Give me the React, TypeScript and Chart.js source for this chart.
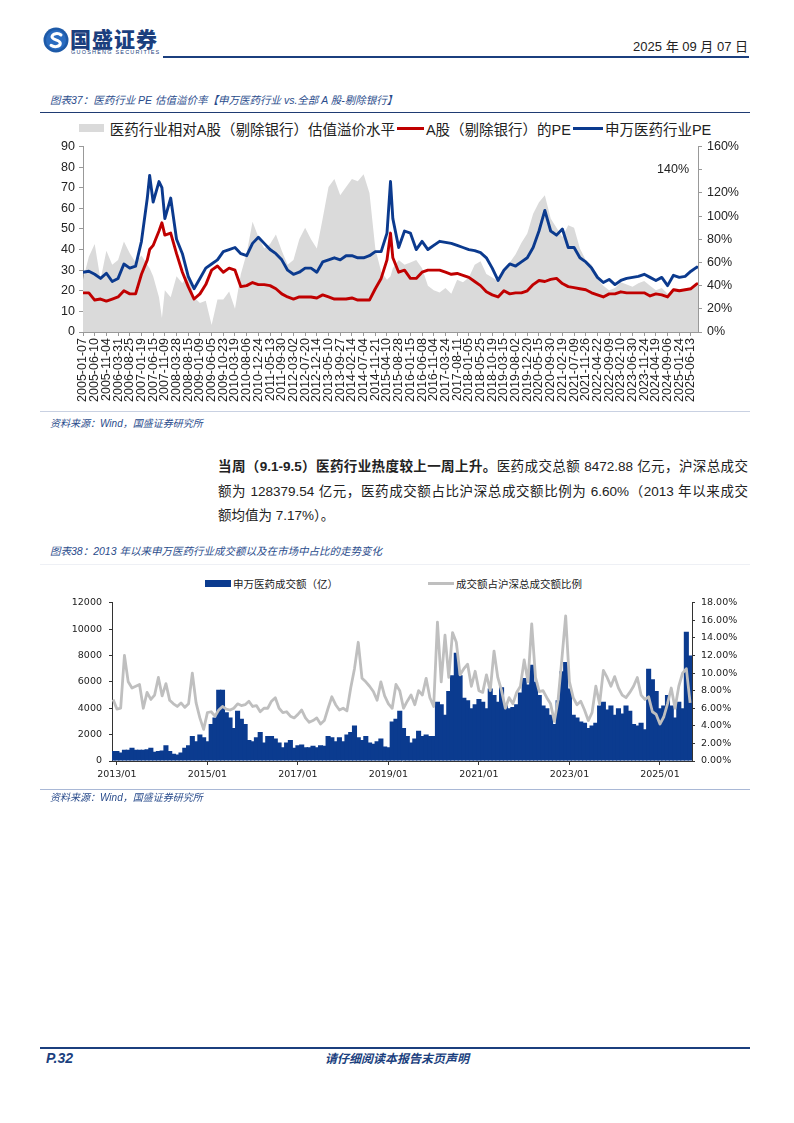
import React, { useEffect, useRef } from 'react';
import { Chart, registerables } from 'chart.js';

Chart.register(...registerables);

// ---------------- Chart 37: PE & premium ----------------
const peXLabels = [
  '2005-01-07','2005-06-10','2005-11-04','2006-03-31','2006-08-25','2007-01-19','2007-06-15','2007-11-09',
  '2008-03-28','2008-08-15','2009-01-09','2009-06-05','2009-10-23','2010-03-19','2010-08-06','2010-12-24',
  '2011-05-13','2011-09-30','2012-03-02','2012-07-20','2012-12-14','2013-05-10','2013-09-27','2014-02-14',
  '2014-07-04','2014-11-21','2015-04-10','2015-08-28','2016-01-15','2016-06-08','2016-11-04','2017-03-24',
  '2017-08-11','2018-01-05','2018-05-25','2018-10-19','2019-03-15','2019-08-02','2019-12-20','2020-05-15',
  '2020-09-30','2021-02-19','2021-07-09','2021-11-26','2022-04-22','2022-09-09','2023-02-10','2023-06-30',
  '2023-11-24','2024-04-19','2024-09-06','2025-01-24','2025-06-13',
];

// trading-week index of each sample (tick labels every 20 weeks)
const peWeeks = [
  0, 10, 20, 30, 40, 50, 60, 70, 80, 90,
  100, 110, 114, 120, 130, 135, 140, 150, 160, 170,
  180, 190, 200, 210, 220, 230, 240, 250, 260, 270,
  280, 290, 300, 310, 320, 330, 340, 350, 360, 370,
  380, 390, 400, 410, 420, 430, 440, 450, 460, 470,
  480, 490, 500, 510, 520, 526, 530, 540, 550, 560,
  570, 580, 590, 600, 610, 620, 630, 640, 650, 660,
  670, 680, 690, 700, 710, 720, 730, 740, 750, 760,
  770, 780, 790, 800, 810, 820, 830, 840, 850, 860,
  870, 880, 890, 900, 910, 920, 930, 940, 950, 960,
  970, 980, 990, 1000, 1010, 1020, 1030, 1040, 1050, 1052,
];

const swPharmaPE = [
  29, 29.5, 28, 26, 28.5, 24.5, 26, 33, 31, 32,
  44, 65, 76, 63, 73, 70, 55, 65, 45, 38,
  27, 21, 26, 31, 33, 35, 39, 40, 41, 38,
  37, 43, 46, 43, 40, 38, 35, 30, 28, 29,
  31, 31, 29, 34, 35, 36, 35, 37, 37, 36,
  36, 37, 39, 39, 48, 73, 55, 41, 49, 48,
  40, 44, 40, 42, 44, 43.5, 43, 42, 41, 40,
  39.5, 38.5, 36, 31, 25, 30, 33, 32, 34, 36,
  41, 49, 59, 49, 47, 50, 41, 41, 36, 34,
  31, 26.5, 24, 25.5, 23, 25, 26, 26.5, 27, 28,
  26.5, 25, 26.5, 22.5, 27.5, 26.5, 27, 29.5, 31.5, 31,
];

const aShareExBankPE = [
  19, 19, 15.5, 16, 15, 16, 17, 20, 18.5, 18.5,
  28, 35, 40, 42, 49, 53, 47, 48, 38, 29,
  22, 16, 18.5, 23, 30, 32, 29, 31, 30, 22,
  22.5, 24, 23, 23, 22.5, 21, 18.5, 17, 16, 17,
  17, 17, 16.5, 18, 17, 16, 16, 16, 16.5, 15.5,
  15.5, 15.5, 21, 26, 35, 48, 36, 29, 30, 26,
  26, 29, 30, 30, 30, 29, 28, 28.4, 27.5, 26.5,
  24.5, 22.5, 19.5, 18, 17, 20, 18.5, 19, 19, 20,
  23, 25, 24.5, 25.5, 26, 23.5, 22, 21.5, 21, 20.5,
  19, 18, 17, 18.5, 18.5, 19.5, 19, 19, 19, 19,
  17.5, 18.5, 18, 17, 20.5, 20, 20.5, 21, 23.3, 23.5,
];

const premiumPct = [
  45, 65, 76, 45, 70, 58, 62, 78, 68, 60,
  66, 58, 55, 48, 30, 12, 36, 30, 48, 42,
  50, 30, 25, 27, 6, 28, 28, 35, 20, 50,
  68, 95, 82, 72, 76, 84, 70, 58, 62, 80,
  90, 80, 72, 98, 125, 132, 118, 125, 132, 130,
  136, 120, 72, 52, 45, 48, 55, 62, 58, 60,
  62, 55, 40, 36, 34, 38, 33, 45, 43, 47,
  58, 61, 50, 47, 44, 52, 60, 67, 77, 85,
  102, 112, 118, 98, 90, 82, 92, 90, 72, 62,
  58, 46, 40, 36, 38, 43, 41, 39, 42, 44,
  40, 36, 38, 33, 38, 37, 36, 39, 40, 40,
];

// ---------------- Chart 38: turnover ----------------
const turnoverTickLabels = ['2013/01', '2015/01', '2017/01', '2019/01', '2021/01', '2023/01', '2025/01'];

// monthly samples starting 2012/12 (month index -1)
const turnoverYi = [
  750, 750, 650, 850, 850, 1000, 850, 850, 850, 900,
  1000, 700, 750, 800, 1200, 750, 550, 500, 650, 1000,
  1200, 1900, 1500, 2000, 1800, 1500, 2800, 3300, 5400, 5400,
  3700, 3300, 2500, 3800, 3200, 2800, 1600, 1500, 1800, 2200,
  1400, 1900, 1900, 1700, 1400, 1050, 1400, 1600, 1000, 1200,
  1250, 1050, 1050, 1150, 1050, 1200, 1150, 1900, 1800, 1500,
  1800, 1500, 2000, 2200, 2700, 1800, 1600, 1900, 1400, 1300,
  1500, 1700, 1100, 1050, 3000, 3200, 3800, 2500, 1900, 1400,
  1700, 2300, 1900, 2000, 1900, 1900, 4500, 4300, 3500, 5300,
  6500, 8200, 6500, 4800, 4600, 4000, 4300, 4700, 4500, 4000,
  5500, 5000, 4500, 5600, 4400, 4000, 4100, 4300, 5200, 6300,
  5800, 7300, 6000, 5000, 4200, 4000, 3500, 2800, 4600, 6800,
  7500, 5500, 3500, 3300, 3000, 2900, 2500, 2700, 2900, 4200,
  4500, 3900, 4200, 3500, 4000, 3600, 4200, 3800, 2800, 2700,
  2900, 2400, 7000, 6200, 5300, 4000, 4200, 5000, 4200, 3300,
  4500, 4000, 9800, 8000,
];

const turnoverRatioPct = [
  7.0, 5.9, 6.0, 12.0, 9.0, 8.3, 8.5, 8.7, 6.0, 7.8,
  7.0, 7.5, 9.5, 7.4, 8.8, 6.9, 6.5, 6.2, 6.6, 6.1,
  6.5, 10.0, 6.6, 4.9, 3.6, 5.5, 5.6, 5.1, 5.8, 6.2,
  5.9, 5.8, 6.0, 6.5, 6.3, 6.4, 6.8, 6.2, 6.3, 5.6,
  6.0, 6.0, 6.8, 7.2, 6.0, 5.5, 5.6, 5.1, 4.9, 5.3,
  5.8, 4.9, 4.4, 4.6, 4.9, 4.2, 4.6, 6.0, 7.3, 6.4,
  5.8, 6.0, 5.7, 8.3, 10.5, 13.5, 9.4, 9.0, 8.5, 7.9,
  6.9, 9.0, 7.4, 6.5, 6.0, 8.7, 8.0, 6.0, 6.8, 7.5,
  6.4, 8.0, 7.5, 9.4, 7.2, 6.2, 15.8, 9.0, 14.3, 9.5,
  14.6, 13.5, 9.8, 10.5, 11.0, 8.5, 10.2, 8.0, 7.8, 9.8,
  8.0, 12.5, 9.5, 8.0, 6.0, 7.2, 6.5, 7.8, 8.5, 11.5,
  9.0, 15.6, 9.5, 7.9, 8.0, 7.2, 6.5, 4.5, 7.0, 11.6,
  16.5, 9.0, 7.2, 6.4, 6.8, 5.8, 4.6, 5.5, 8.5, 6.5,
  10.3, 9.5, 8.5, 9.6, 8.3, 7.5, 7.2, 7.8, 8.5, 9.5,
  7.5, 7.0, 7.3, 5.6, 5.3, 4.2, 5.0, 6.5, 8.3, 6.0,
  8.5, 10.0, 10.5, 6.6,
];
const turnoverMonths = turnoverYi.map((_, i) => i - 1);

const NAVY = '#1b3f7e';
const TITLE_BLUE = '#2a4c8c';
const CJK = '"Noto Sans CJK SC", sans-serif';
const ARIAL_CJK = '"Liberation Sans", "Noto Sans CJK SC", sans-serif';

const label140Plugin = {
  id: 'label140',
  afterDraw(chart: any) {
    const s = chart.scales.y1;
    const ctx = chart.ctx;
    ctx.save();
    ctx.font = '12.5px "Liberation Sans", Arial, sans-serif';
    ctx.fillStyle = '#222';
    ctx.textAlign = 'right';
    ctx.textBaseline = 'middle';
    ctx.fillText('140%', chart.chartArea.right - 9, s.getPixelForValue(140));
    ctx.restore();
  },
};

function PEChart() {
  const ref = useRef<HTMLCanvasElement>(null);
  useEffect(() => {
    const tickFont = { family: '"Liberation Sans", Arial, sans-serif', size: 12.5 };
    const chart = new Chart(ref.current as HTMLCanvasElement, {
      type: 'line',
      data: {
        datasets: [
          {
            label: '申万医药行业PE',
            data: peWeeks.map((w, i) => ({ x: w, y: swPharmaPE[i] })),
            borderColor: '#0b3a8e',
            borderWidth: 2.9,
            borderJoinStyle: 'round',
            pointRadius: 0,
            yAxisID: 'y',
            order: 1,
          },
          {
            label: 'A股（剔除银行）的PE',
            data: peWeeks.map((w, i) => ({ x: w, y: aShareExBankPE[i] })),
            borderColor: '#c00000',
            borderWidth: 2.9,
            borderJoinStyle: 'round',
            pointRadius: 0,
            yAxisID: 'y',
            order: 2,
          },
          {
            label: '医药行业相对A股（剔除银行）估值溢价水平',
            data: peWeeks.map((w, i) => ({ x: w, y: premiumPct[i] })),
            borderWidth: 0,
            borderColor: 'rgba(0,0,0,0)',
            backgroundColor: '#dadada',
            fill: 'origin',
            pointRadius: 0,
            yAxisID: 'y1',
            order: 3,
          },
        ],
      } as any,
      options: {
        responsive: false,
        animation: false,
        events: [],
        layout: { padding: { top: 0, left: 0, right: 0, bottom: 0 } },
        plugins: { legend: { display: false }, tooltip: { enabled: false } },
        scales: {
          x: {
            type: 'linear',
            min: 0,
            max: 1052,
            afterBuildTicks: (s: any) => {
              s.ticks = peXLabels.map((_, i) => ({ value: i * 20 }));
            },
            afterFit: (s: any) => {
              s.height = 78;
            },
            ticks: {
              autoSkip: false,
              minRotation: 90,
              maxRotation: 90,
              padding: 2,
              color: '#222',
              font: tickFont,
              callback: (_v: any, i: number) => peXLabels[i],
            },
            grid: { drawOnChartArea: false, tickLength: 4, color: '#999' },
            border: { color: '#999' },
          },
          y: {
            position: 'left',
            min: 0,
            max: 90,
            afterFit: (s: any) => {
              s.width = 43;
            },
            ticks: { stepSize: 10, color: '#222', font: tickFont, padding: 4 },
            grid: { drawOnChartArea: false, tickLength: 4, color: '#999' },
            border: { color: '#999' },
          },
          y1: {
            position: 'right',
            min: 0,
            max: 160,
            afterFit: (s: any) => {
              s.width = 62;
            },
            ticks: {
              stepSize: 20,
              color: '#222',
              font: tickFont,
              padding: 5,
              callback: (v: any) => (v === 140 ? '' : v + '%'),
            },
            grid: { drawOnChartArea: false, tickLength: 4, color: '#999' },
            border: { color: '#999' },
          },
        },
      } as any,
      plugins: [label140Plugin],
    });
    return () => chart.destroy();
  }, []);
  return (
    <canvas
      ref={ref}
      width={720}
      height={276}
      style={{ position: 'absolute', left: 40, top: 134, width: 720, height: 276 }}
    />
  );
}

function TurnoverChart() {
  const ref = useRef<HTMLCanvasElement>(null);
  useEffect(() => {
    const tickFont = { family: '"DejaVu Sans", Verdana, sans-serif', size: 9.5 };
    const chart = new Chart(ref.current as HTMLCanvasElement, {
      type: 'bar',
      data: {
        datasets: [
          {
            type: 'line',
            label: '成交额占沪深总成交额比例',
            data: turnoverMonths.map((m, i) => ({ x: m, y: turnoverRatioPct[i] })),
            borderColor: '#bfbfbf',
            borderWidth: 2.8,
            borderJoinStyle: 'round',
            pointRadius: 0,
            yAxisID: 'y1',
            order: 1,
          },
          {
            type: 'bar',
            label: '申万医药成交额（亿）',
            data: turnoverMonths.map((m, i) => ({ x: m, y: turnoverYi[i] })),
            backgroundColor: '#0b3b8f',
            borderWidth: 0,
            barPercentage: 1.35,
            categoryPercentage: 1,
            yAxisID: 'y',
            order: 2,
          },
        ],
      } as any,
      options: {
        responsive: false,
        animation: false,
        events: [],
        layout: { padding: { top: 8, left: 0, right: 0, bottom: 0 } },
        plugins: { legend: { display: false }, tooltip: { enabled: false } },
        scales: {
          x: {
            type: 'linear',
            offset: false,
            min: -1.3,
            max: 152.5,
            afterBuildTicks: (s: any) => {
              s.ticks = turnoverTickLabels.map((_, i) => ({ value: i * 24 }));
            },
            afterFit: (s: any) => {
              s.height = 29;
            },
            ticks: {
              autoSkip: false,
              maxRotation: 0,
              minRotation: 0,
              padding: 4,
              color: '#222',
              font: tickFont,
              callback: (_v: any, i: number) => turnoverTickLabels[i],
            },
            grid: { offset: false, drawOnChartArea: false, tickLength: 4, color: '#333' },
            border: { color: '#333' },
          },
          y: {
            position: 'left',
            min: 0,
            max: 12000,
            afterFit: (s: any) => {
              s.width = 72;
            },
            ticks: {
              stepSize: 2000,
              color: '#222',
              font: tickFont,
              padding: 7,
              callback: (v: any) => String(v),
            },
            grid: { drawOnChartArea: false, tickLength: 3, color: '#333' },
            border: { color: '#333' },
          },
          y1: {
            position: 'right',
            min: 0,
            max: 18,
            afterFit: (s: any) => {
              s.width = 68;
            },
            ticks: {
              stepSize: 2,
              color: '#222',
              font: tickFont,
              padding: 6,
              callback: (v: any) => Number(v).toFixed(2) + '%',
            },
            grid: { drawOnChartArea: false, tickLength: 3, color: '#333' },
            border: { color: '#333' },
          },
        },
      } as any,
    });
    return () => chart.destroy();
  }, []);
  return (
    <canvas
      ref={ref}
      width={720}
      height={200}
      style={{ position: 'absolute', left: 40, top: 590, width: 720, height: 200 }}
    />
  );
}

const abs = (l: number, t: number, extra: any = {}) => ({ position: 'absolute', left: l, top: t, ...extra } as any);

export default function App() {
  return (
    <div
      style={{
        position: 'absolute',
        left: 0,
        top: 0,
        width: 794,
        height: 1123,
        background: '#fff',
        fontFamily: CJK,
        color: '#222',
        overflow: 'hidden',
      }}
    >
      {/* header */}
      <svg width="26" height="26" viewBox="0 0 26 26" style={abs(43, 27)}>
        <circle cx="13" cy="13" r="12.5" fill="#1d5aa8" />
        <circle cx="13" cy="13" r="10" fill="#2a6cc0" />
        <path
          d="M18 8 C15.5 5.8 9.5 6 9 9.8 C8.6 13.2 17.4 12.6 17.3 16.4 C17.2 20 11 20.6 8 18.3"
          stroke="#fff"
          strokeWidth="3"
          fill="none"
          strokeLinecap="round"
        />
      </svg>
      <div style={abs(70, 25, { fontSize: 21, fontWeight: 900, color: NAVY, lineHeight: '26px', letterSpacing: 1 })}>
        国盛证券
      </div>
      <div
        style={abs(71, 49, {
          fontSize: 5.5,
          color: NAVY,
          lineHeight: '7px',
          letterSpacing: 1.2,
          fontFamily: '"Liberation Sans", sans-serif',
        })}
      >
        GUOSHENG SECURITIES
      </div>
      <div
        style={abs(560, 38, {
          width: 188,
          textAlign: 'right',
          fontSize: 13,
          lineHeight: '18px',
          color: '#222',
          fontFamily: ARIAL_CJK,
        })}
      >
        2025 年 09 月 07 日
      </div>
      <div style={abs(163, 56, { width: 586, height: 1.5, background: NAVY })} />

      {/* chart 37 */}
      <div
        style={abs(50, 93, {
          fontSize: 10.5,
          lineHeight: '14px',
          fontStyle: 'italic',
          color: TITLE_BLUE,
          fontFamily: ARIAL_CJK,
        })}
      >
        图表37：医药行业 PE 估值溢价率【申万医药行业 vs.全部 A 股-剔除银行】
      </div>
      <div style={abs(40, 112, { width: 710, height: 1, background: '#1f3b73' })} />

      <div
        style={abs(40, 118, {
          width: 710,
          height: 20,
          display: 'flex',
          justifyContent: 'center',
          alignItems: 'center',
          fontSize: 14.5,
          color: '#222',
          whiteSpace: 'nowrap',
          fontFamily: ARIAL_CJK,
        })}
      >
        <span style={{ display: 'inline-block', width: 25, height: 8, background: '#dadada', marginRight: 6 }} />
        <span>医药行业相对A股（剔除银行）估值溢价水平</span>
        <span style={{ display: 'inline-block', width: 27, height: 3, background: '#c00000', margin: '0 2px' }} />
        <span>A股（剔除银行）的PE</span>
        <span style={{ display: 'inline-block', width: 30, height: 3, background: '#0b3a8e', margin: '0 2px' }} />
        <span>申万医药行业PE</span>
      </div>

      <PEChart />

      <div style={abs(40, 411, { width: 710, height: 1, background: '#c9d1e2' })} />
      <div
        style={abs(50, 417, {
          fontSize: 10,
          lineHeight: '14px',
          fontStyle: 'italic',
          color: TITLE_BLUE,
          fontFamily: ARIAL_CJK,
        })}
      >
        资料来源：Wind，国盛证券研究所
      </div>

      {/* paragraph */}
      <div style={abs(218, 455, { width: 530, fontSize: 13.5, lineHeight: '24.5px', color: '#222', fontFamily: ARIAL_CJK })}>
        <div style={{ textAlign: 'justify', textAlignLast: 'justify', whiteSpace: 'nowrap' } as any}>
          <b>当周（9.1-9.5）医药行业热度较上一周上升。</b>医药成交总额 8472.88 亿元，沪深总成交
        </div>
        <div style={{ textAlign: 'justify', textAlignLast: 'justify', whiteSpace: 'nowrap' } as any}>
          额为 128379.54 亿元，医药成交额占比沪深总成交额比例为 6.60%（2013 年以来成交
        </div>
        <div style={{ whiteSpace: 'nowrap' }}>额均值为 7.17%）。</div>
      </div>

      {/* chart 38 */}
      <div
        style={abs(50, 544, {
          fontSize: 10.5,
          lineHeight: '14px',
          fontStyle: 'italic',
          color: TITLE_BLUE,
          fontFamily: ARIAL_CJK,
        })}
      >
        图表38：2013 年以来申万医药行业成交额以及在市场中占比的走势变化
      </div>
      <div style={abs(40, 564, { width: 710, height: 1, background: '#eef0f5' })} />

      <div style={abs(205, 580, { width: 26, height: 7, background: '#0b3b8f' })} />
      <div style={abs(233, 576, { fontSize: 10.5, lineHeight: '15px', color: '#222', whiteSpace: 'nowrap' })}>
        申万医药成交额（亿）
      </div>
      <div style={abs(428, 582, { width: 26, height: 3, background: '#bfbfbf' })} />
      <div style={abs(456, 576, { fontSize: 10.5, lineHeight: '15px', color: '#222', whiteSpace: 'nowrap' })}>
        成交额占沪深总成交额比例
      </div>

      <TurnoverChart />

      <div style={abs(40, 789, { width: 710, height: 1, background: '#a9b8d6' })} />
      <div
        style={abs(50, 791, {
          fontSize: 10,
          lineHeight: '14px',
          fontStyle: 'italic',
          color: TITLE_BLUE,
          fontFamily: ARIAL_CJK,
        })}
      >
        资料来源：Wind，国盛证券研究所
      </div>

      {/* footer */}
      <div style={abs(40, 1047, { width: 710, height: 1.5, background: NAVY })} />
      <div
        style={abs(46, 1049, {
          fontSize: 14,
          lineHeight: '18px',
          fontWeight: 700,
          fontStyle: 'italic',
          color: NAVY,
          fontFamily: '"Liberation Sans", sans-serif',
        })}
      >
        P.32
      </div>
      <div
        style={abs(297, 1049, {
          width: 200,
          textAlign: 'center',
          fontSize: 12,
          lineHeight: '18px',
          fontWeight: 700,
          fontStyle: 'italic',
          color: NAVY,
        })}
      >
        请仔细阅读本报告末页声明
      </div>
    </div>
  );
}
